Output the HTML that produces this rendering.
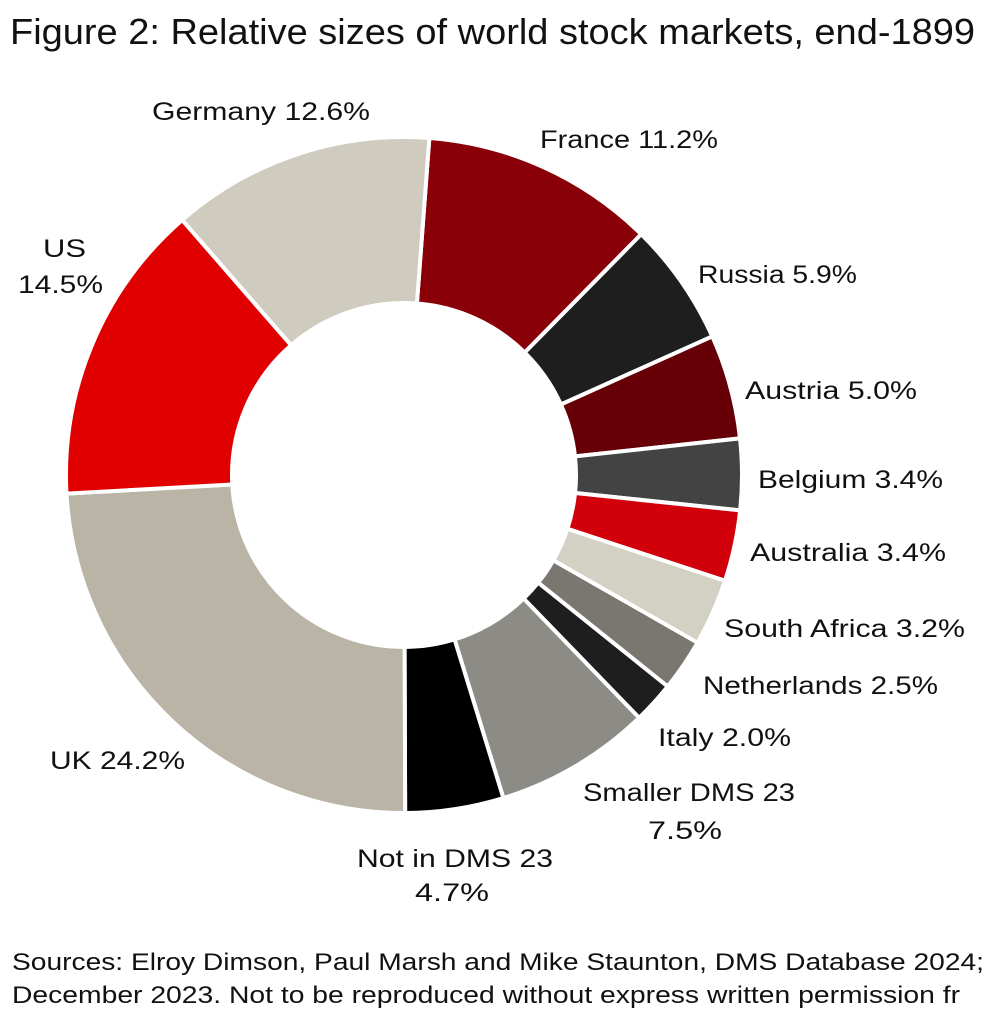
<!DOCTYPE html>
<html><head><meta charset="utf-8"><style>
body{margin:0;background:#fff;width:984px;height:1024px;overflow:hidden;font-family:"Liberation Sans",sans-serif;}
svg text{font-family:"Liberation Sans",sans-serif;fill:#111;}
</style></head><body>
<svg id="s" width="984" height="1024" xmlns="http://www.w3.org/2000/svg">
<text x="10" y="44" font-size="36" textLength="965" lengthAdjust="spacingAndGlyphs">Figure 2: Relative sizes of world stock markets, end-1899</text>
<g id="d"></g>
<g font-size="25" lengthAdjust="spacingAndGlyphs">
<text x="152" y="120" textLength="218" lengthAdjust="spacingAndGlyphs">Germany 12.6%</text>
<text x="540" y="148" textLength="178" lengthAdjust="spacingAndGlyphs">France 11.2%</text>
<text x="43" y="257" textLength="43" lengthAdjust="spacingAndGlyphs">US</text>
<text x="18" y="293" textLength="85" lengthAdjust="spacingAndGlyphs">14.5%</text>
<text x="698" y="283" textLength="159" lengthAdjust="spacingAndGlyphs">Russia 5.9%</text>
<text x="745" y="399" textLength="172" lengthAdjust="spacingAndGlyphs">Austria 5.0%</text>
<text x="758" y="488" textLength="185" lengthAdjust="spacingAndGlyphs">Belgium 3.4%</text>
<text x="750" y="561" textLength="196" lengthAdjust="spacingAndGlyphs">Australia 3.4%</text>
<text x="724" y="637" textLength="241" lengthAdjust="spacingAndGlyphs">South Africa 3.2%</text>
<text x="703" y="694" textLength="235" lengthAdjust="spacingAndGlyphs">Netherlands 2.5%</text>
<text x="658" y="746" textLength="133" lengthAdjust="spacingAndGlyphs">Italy 2.0%</text>
<text x="583" y="801" textLength="212" lengthAdjust="spacingAndGlyphs">Smaller DMS 23</text>
<text x="648" y="839" textLength="74" lengthAdjust="spacingAndGlyphs">7.5%</text>
<text x="50" y="769" textLength="135" lengthAdjust="spacingAndGlyphs">UK 24.2%</text>
<text x="357" y="867" textLength="196" lengthAdjust="spacingAndGlyphs">Not in DMS 23</text>
<text x="415" y="901" textLength="74" lengthAdjust="spacingAndGlyphs">4.7%</text>
</g>
<text x="12" y="970" font-size="24" textLength="972" lengthAdjust="spacingAndGlyphs">Sources: Elroy Dimson, Paul Marsh and Mike Staunton, DMS Database 2024;</text>
<text x="12" y="1003" font-size="24" textLength="948" lengthAdjust="spacingAndGlyphs">December 2023. Not to be reproduced without express written permission fr</text>
</svg>
<script>
var data=[[11.2,"#8a0008"],[5.9,"#1e1e1e"],[5.0,"#660006"],[3.4,"#434343"],[3.4,"#d2000a"],[3.2,"#d3d0c4"],[2.5,"#7a7670"],[2.0,"#1e1e1e"],[7.5,"#8c8b85"],[4.7,"#000000"],[24.2,"#bab4a7"],[14.5,"#e10000"],[12.6,"#cfcbbe"]];
var cx=404,cy=475,R=338,r=172,a=4.3*Math.PI/180,tot=100.1,h="";
function p(rad,ang){return (cx+rad*Math.sin(ang)).toFixed(2)+","+(cy-rad*Math.cos(ang)).toFixed(2);}
data.forEach(function(d){var b=a+d[0]/tot*2*Math.PI,l=(b-a)>Math.PI?1:0;
h+='<path d="M'+p(R,a)+' A'+R+','+R+' 0 '+l+' 1 '+p(R,b)+' L'+p(r,b)+' A'+r+','+r+' 0 '+l+' 0 '+p(r,a)+' Z" fill="'+d[1]+'" stroke="#fff" stroke-width="4" stroke-linejoin="miter"/>';a=b;});
document.getElementById("d").innerHTML=h;
</script>
</body></html>
